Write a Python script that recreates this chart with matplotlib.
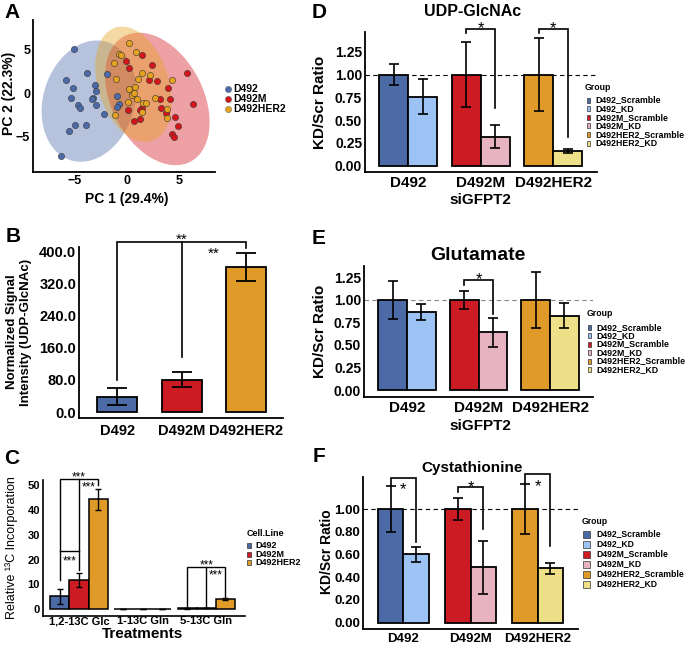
import numpy as np
import matplotlib
matplotlib.use('Agg')
import matplotlib.pyplot as plt
from matplotlib.patches import Ellipse, Rectangle
from matplotlib.lines import Line2D
from matplotlib.transforms import offset_copy

plt.rcParams['font.family'] = ['Liberation Sans', 'DejaVu Sans']
plt.rcParams['font.weight'] = 'bold'

# ---------------- data ----------------
cell_lines = ['D492', 'D492M', 'D492HER2']

pc1_d492 = [-5.0, -5.8, -3.8, -1.9, -5.1, -3.0, -2.9, -5.3, -3.2, -3.3, -4.6, -4.4, -2.9, -0.9, -0.7, -0.9, -2.2, -4.9, -5.5, -3.9, -6.3]
pc2_d492 = [5.1, 1.5, 2.3, 2.2, 0.6, 1.0, 0.3, -0.5, -0.5, -0.6, -1.3, -1.7, -1.3, -0.3, -1.2, -1.6, -2.4, -3.7, -4.3, -3.7, -7.2]
pc1_d492m = [-0.1, 1.5, 2.4, 0.2, 2.1, 2.9, 5.7, 3.9, 3.2, 4.1, 6.3, 1.5, 3.3, 1.3, 3.7, 4.6, 0.1, 1.3, 0.7, 4.9, 4.3, 4.5]
pc2_d492m = [3.7, 4.4, 3.3, 2.9, 1.5, 1.4, 2.4, 0.6, -0.6, -0.6, -1.2, -1.7, -1.7, -1.9, -2.3, -2.7, -1.9, -3.0, -3.2, -3.8, -4.7, -5.0]
pc1_her2 = [0.2, 0.9, -0.7, -0.5, -1.2, -1.0, 1.5, 2.2, 1.1, 4.3, 0.2, 0.8, 0.5, 0.7, 0.1, 1.0, 1.6, 1.8, 2.7, 1.5, -1.1, 3.8, 3.8]
pc2_her2 = [5.8, 4.8, 4.5, 4.4, 3.5, 1.7, 2.3, 2.1, 1.7, 1.5, 0.5, 0.7, -0.2, 0.0, -1.0, -0.7, -1.1, -1.1, -0.5, -2.2, -2.5, -1.8, -2.9]

# confidence ellipses: centre, half-extent in x / y, tilt correlation
ell_cx = [-3.6, 2.92, 0.65]
ell_cy = [-0.9, -0.65, 1.05]
ell_sx = [4.5, 4.98, 3.65]
ell_sy = [7.0, 7.65, 6.65]
ell_rho = [0.17, -0.35, -0.3]

b_means = [38, 80, 360]
b_errs = [21, 19, 34]

treatments = ['1,2-13C Glc', '1-13C Gln', '5-13C Gln']
c_d492 = [5.2, 0.15, 0.4]
c_d492_err = [2.9, 0.0, 0.15]
c_d492m = [11.8, 0.15, 0.5]
c_d492m_err = [2.8, 0.0, 0.15]
c_her2 = [44.2, 0.15, 4.1]
c_her2_err = [4.2, 0.0, 0.5]

group_labels = ['D492_Scramble', 'D492_KD', 'D492M_Scramble', 'D492M_KD', 'D492HER2_Scramble', 'D492HER2_KD']

d_scr = [1.0, 1.0, 1.0]
d_scr_err = [0.12, 0.36, 0.40]
d_kd = [0.757, 0.318, 0.164]
d_kd_err = [0.19, 0.125, 0.02]

e_scr = [1.0, 1.0, 1.0]
e_scr_err = [0.21, 0.10, 0.31]
e_kd = [0.863, 0.64, 0.826]
e_kd_err = [0.09, 0.16, 0.135]

f_scr = [1.0, 1.0, 1.0]
f_scr_err = [0.20, 0.095, 0.22]
f_kd = [0.60, 0.487, 0.478]
f_kd_err = [0.07, 0.23, 0.047]

# ---------------- style ----------------
pt_cols = ['#4C6AA8', '#D4161C', '#E6A21F']
scr_cols = ['#4C6AA5', '#CC1B22', '#E09A28']
kd_cols = ['#9DC3F5', '#E8B3C0', '#EEE089']
grp_cols = [scr_cols[0], kd_cols[0], scr_cols[1], kd_cols[1], scr_cols[2], kd_cols[2]]

W, H = 688, 647
fig = plt.figure(figsize=(W / 100, H / 100), dpi=100)


def ax_px(l, t, r, b):
    return fig.add_axes([l / W, 1 - b / H, (r - l) / W, (b - t) / H])


def ftext(x, y, s, **kw):
    kw.setdefault('ha', 'center')
    kw.setdefault('va', 'center')
    return fig.text(x / W, 1 - y / H, s, **kw)


def style(ax, lw=1.3, fs=10):
    for s in ['top', 'right']:
        ax.spines[s].set_visible(False)
    for s in ['left', 'bottom']:
        ax.spines[s].set_linewidth(lw)
    ax.tick_params(length=0, labelsize=fs, pad=2)
    for lab in ax.get_xticklabels() + ax.get_yticklabels():
        lab.set_fontweight('bold')


def legend_px(x_title, y_title, x_key, x_txt, y_rows, labels, cols, kw, kh, fs, title=None, dots=False):
    if title:
        ftext(x_title, y_title, title, ha='left', fontsize=fs, fontweight='bold')
    for y, lab, c in zip(y_rows, labels, cols):
        if dots:
            fig.add_artist(Line2D([x_key / W], [1 - y / H], marker='o', color=c, markersize=4.5,
                                  markeredgecolor='#555555', markeredgewidth=0.3, transform=fig.transFigure))
        else:
            fig.add_artist(Rectangle((x_key / W, 1 - (y + kh / 2) / H), kw / W, kh / H, facecolor=c,
                                     edgecolor='#333333', linewidth=0.5, transform=fig.transFigure))
        ftext(x_txt, y, lab, ha='left', fontsize=fs, fontweight='bold')


def bracket(ax, xs, ys, lw=1.2):
    ax.plot(xs, ys, color='black', lw=lw, clip_on=False, solid_joinstyle='miter')


def stars(ax, x, y, s, fs):
    # place the asterisk glyphs so that their visual centre sits at (x, y)
    tr = offset_copy(ax.transData, fig=fig, y=-0.57 * fs, units='points')
    ax.text(x, y, s, transform=tr, ha='center', va='baseline', fontsize=fs, fontweight='normal', clip_on=False)


# ---------------- Panel A ----------------
axA = ax_px(33, 20, 215, 172)
pcs = [(pc1_d492, pc2_d492), (pc1_d492m, pc2_d492m), (pc1_her2, pc2_her2)]
for cx, cy, sx, sy, rho, c in zip(ell_cx, ell_cy, ell_sx, ell_sy, ell_rho, pt_cols):
    cov = np.array([[sx * sx, rho * sx * sy], [rho * sx * sy, sy * sy]])
    vals, vecs = np.linalg.eigh(cov)
    ang = np.degrees(np.arctan2(vecs[1, 1], vecs[0, 1]))
    axA.add_patch(Ellipse((cx, cy), 2 * np.sqrt(vals[1]), 2 * np.sqrt(vals[0]), angle=ang,
                          facecolor=c, alpha=0.4, edgecolor='none', zorder=1))
for (x, y), c in zip(pcs, pt_cols):
    axA.scatter(x, y, s=20, color=c, edgecolor='#333333', linewidth=0.4, zorder=3)
axA.set_xlim(-8.92, 8.41)
axA.set_ylim(-9.08, 8.46)
axA.set_xticks([-5, 0, 5])
axA.set_yticks([-5, 0, 5])
style(axA, fs=9)
ftext(127, 199, 'PC 1 (29.4%)', fontsize=10, fontweight='bold')
ftext(9, 93, 'PC 2 (22.3%)', fontsize=10, fontweight='bold', rotation=90)
legend_px(0, 0, 228, 233, [89, 99, 109], cell_lines, pt_cols, 0, 0, 7.5, dots=True)

# ---------------- Panel B ----------------
axB = ax_px(79, 247, 283, 418)
xb = np.arange(1, 4)
axB.bar(xb, b_means, width=0.62, color=scr_cols, edgecolor='black', linewidth=1.3, zorder=2)
axB.errorbar(xb, b_means, yerr=b_errs, fmt='none', ecolor='black', elinewidth=1.3, capsize=7, capthick=1.3, zorder=3)
axB.set_xlim(0.41, 3.57)
axB.set_ylim(-14.9, 410)
axB.set_yticks([0, 80, 160, 240, 320, 400])
axB.set_yticklabels(['0.0', '80.0', '160.0', '240.0', '320.0', '400.0'])
axB.set_xticks(xb)
axB.set_xticklabels(cell_lines)
style(axB, fs=10.5)
axB.tick_params(axis='x', pad=4)
bracket(axB, [1, 1, 3, 3], [79.5, 423, 423, 406.7])
bracket(axB, [2, 2], [137, 423])
stars(axB, 2, 440, '**', 11)
stars(axB, 2.5, 406, '**', 11)
ftext(19, 332, 'Normalized Signal\nIntensity (UDP-GlcNAc)', fontsize=9.5, fontweight='bold', rotation=90,
      linespacing=1.2)

# ---------------- Panel C ----------------
axC = ax_px(42.7, 480, 245, 615.7)
xc = np.arange(1, 4)
wc = 0.3
for off, vals, errs, c in [(-wc, c_d492, c_d492_err, scr_cols[0]), (0, c_d492m, c_d492m_err, scr_cols[1]),
                           (wc, c_her2, c_her2_err, scr_cols[2])]:
    axC.bar(xc + off, vals, width=wc, color=c, edgecolor='black', linewidth=1.1, zorder=2)
    axC.errorbar(xc + off, vals, yerr=errs, fmt='none', ecolor='black', elinewidth=1.0, capsize=2, capthick=1.0, zorder=3)
axC.set_xlim(0.43, 3.61)
axC.set_ylim(-2.57, 52.0)
axC.set_yticks([0, 10, 20, 30, 40, 50])
axC.set_xticks(xc)
axC.set_xticklabels(treatments)
style(axC, lw=1.2, fs=8)
axC.tick_params(axis='x', pad=0.5)
bracket(axC, [0.7, 0.7, 1.3, 1.3], [11.8, 52.4, 52.4, 50.0], lw=1.0)
bracket(axC, [1.0, 1.0], [15.8, 52.4], lw=1.0)
bracket(axC, [0.7, 1.0], [23.4, 23.4], lw=1.0)
bracket(axC, [2.7, 2.7, 3.3, 3.3], [1.0, 17.1, 17.1, 5.1], lw=1.0)
bracket(axC, [3.0, 3.0], [1.0, 17.1], lw=1.0)
for (x, y) in [(1.0, 54.4), (1.15, 50.4), (0.85, 20.9), (3.0, 19.0), (3.15, 15.1)]:
    stars(axC, x, y, '***', 8.5)
ftext(143, 634, 'Treatments', fontsize=11, fontweight='bold')
ftext(12, 548, 'Relative \u00b9\u00b3C Incorporation', fontsize=9, fontweight='normal', rotation=90)
legend_px(246.5, 533, 247, 255, [545.7, 554.3, 562.7], cell_lines, scr_cols, 4, 4.5, 6.5, title='Cell.Line')


# ---------------- Panels D, E, F ----------------
def ratio_panel(box, scr, scr_err, kd, kd_err, w, ylim, yticks, ytl, fs_y, fs_x, cap, dash_col):
    ax = ax_px(*box)
    x = np.arange(1, 4)
    ax.axhline(1.0, color=dash_col, lw=0.8, ls=(0, (4, 3)), zorder=1)
    ax.bar(x - w / 2, scr, width=w, color=scr_cols, edgecolor='black', linewidth=1.3, zorder=2)
    ax.bar(x + w / 2, kd, width=w, color=kd_cols, edgecolor='black', linewidth=1.3, zorder=2)
    ax.errorbar(x - w / 2, scr, yerr=scr_err, fmt='none', ecolor='black', elinewidth=1.2, capsize=cap, capthick=1.2, zorder=3)
    ax.errorbar(x + w / 2, kd, yerr=kd_err, fmt='none', ecolor='black', elinewidth=1.2, capsize=cap, capthick=1.2, zorder=3)
    ax.set_xlim(0.4, 3.6)
    ax.set_ylim(*ylim)
    ax.set_yticks(yticks)
    ax.set_yticklabels(ytl)
    ax.set_xticks(x)
    ax.set_xticklabels(cell_lines)
    style(ax, fs=fs_y)
    ax.tick_params(axis='x', labelsize=fs_x, pad=3)
    return ax


yt_d = [0, 0.25, 0.5, 0.75, 1.0, 1.25]
ytl_d = ['%.2f' % v for v in yt_d]

axD = ratio_panel((365, 31.7, 596.5, 171.7), d_scr, d_scr_err, d_kd, d_kd_err, 0.4, (-0.066, 1.47), yt_d, ytl_d,
                  10, 11, 3.6, 'black')
bracket(axD, [1.8, 1.8, 2.2, 2.2], [1.46, 1.5, 1.5, 0.63])
bracket(axD, [2.8, 2.8, 3.2, 3.2], [1.46, 1.5, 1.5, 0.32])
for xx in [2.0, 3.0]:
    stars(axD, xx, 1.56, '*', 12)
ftext(473, 12, 'UDP-GlcNAc', fontsize=11.5, fontweight='bold')
ftext(320, 102, 'KD/Scr Ratio', fontsize=11, fontweight='bold', rotation=90)
ftext(480, 200, 'siGFPT2', fontsize=11, fontweight='bold')
legend_px(585, 88, 587, 595, [100, 108.6, 117.2, 125.8, 134.4, 143], group_labels, grp_cols, 3.3, 5, 6.3,
          title='Group')

axE = ratio_panel((364, 265.7, 593, 396.7), e_scr, e_scr_err, e_kd, e_kd_err, 0.4, (-0.074, 1.38), yt_d, ytl_d,
                  10, 11, 3.6, '#888888')
bracket(axE, [1.8, 1.8, 2.2, 2.2], [1.17, 1.224, 1.224, 0.846])
stars(axE, 2.0, 1.28, '*', 12)
ftext(478, 255, 'Glutamate', fontsize=14, fontweight='bold')
ftext(320, 331, 'KD/Scr Ratio', fontsize=11, fontweight='bold', rotation=90)
ftext(480, 426, 'siGFPT2', fontsize=11, fontweight='bold')
legend_px(586.5, 314, 587.5, 596.5, [327.3, 335.7, 344, 352.3, 361, 369.7], group_labels, grp_cols, 3.3, 5, 6.3,
          title='Group')

yt_f = [0, 0.2, 0.4, 0.6, 0.8, 1.0]
ytl_f = ['%.2f' % v for v in yt_f]
axF = ratio_panel((363, 476.7, 578, 629), f_scr, f_scr_err, f_kd, f_kd_err, 0.38, (-0.055, 1.284), yt_f, ytl_f,
                  9.5, 9.5, 3.4, 'black')
bracket(axF, [0.81, 0.81, 1.19, 1.19], [1.21, 1.276, 1.276, 0.71])
bracket(axF, [1.81, 1.81, 2.19, 2.19], [1.15, 1.19, 1.19, 0.82])
bracket(axF, [2.81, 2.81, 3.19, 3.19], [1.226, 1.31, 1.31, 0.675])
for xx, yy in [(1.0, 1.21), (2.0, 1.235), (3.0, 1.24)]:
    stars(axF, xx, yy, '*', 12)
ftext(472, 468, 'Cystathionine', fontsize=11, fontweight='bold')
ftext(327, 552, 'KD/Scr Ratio', fontsize=10, fontweight='bold', rotation=90)
legend_px(582, 521, 583, 596, [534, 544, 554, 564, 574, 584], group_labels, grp_cols, 7, 7, 6.2,
          title='Group')

# ---------------- panel letters ----------------
for (x, y, s) in [(12, 12, 'A'), (13, 236, 'B'), (12, 458, 'C'), (319, 13, 'D'), (319, 238, 'E'), (319, 456, 'F')]:
    ftext(x, y, s, fontsize=15, fontweight='bold')

fig.savefig('out.png', dpi=100)
